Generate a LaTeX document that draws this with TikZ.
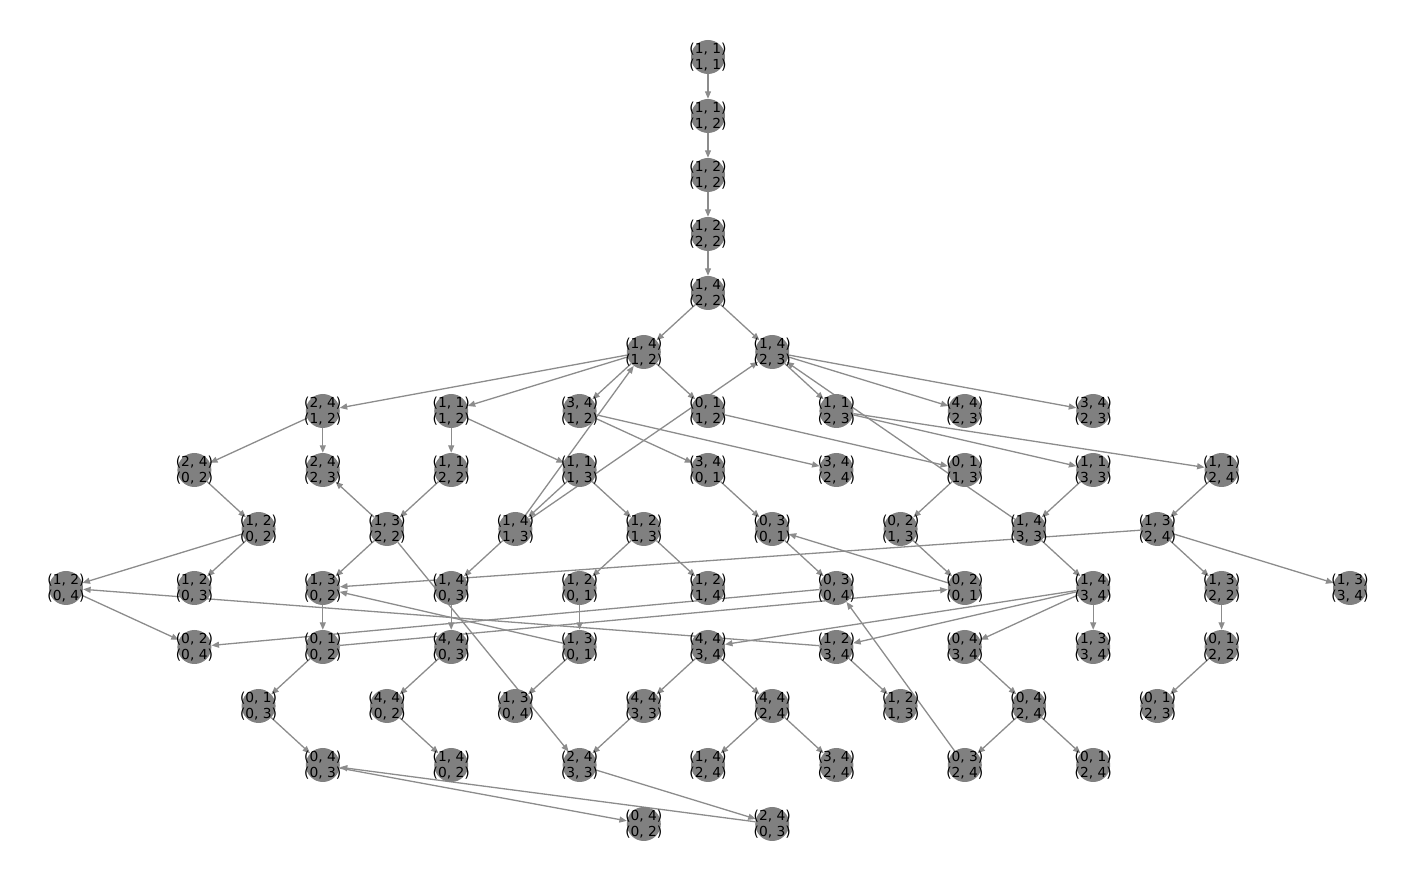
\documentclass[tikz,border=0pt]{standalone}
\usepackage{fontspec}
\setmainfont{DejaVu Sans}
\usetikzlibrary{arrows.meta,backgrounds}
\tikzset{
	st/.style={circle, fill=gray, minimum size=34pt, inner sep=0pt},
	lb/.style={align=center, inner sep=0pt, text=black, font=\fontsize{13.8}{16.2}\selectfont},
	ed/.style={draw=gray!90, line width=1.3pt, -{Triangle[length=7.5pt,width=6pt]}}
}
\newcommand\state[4]{\node[st, label={[lb]center:{#3\\#4}}] (#1) at (#2) {};}

\begin{document}
\begin{tikzpicture}[x=64.2pt, y=-59pt]
		%%%%% START %%%%%
		\useasboundingbox (-1.028,-0.966) rectangle (21.184,13.898);
		
		\state{r0c10}{10,0}{(1, 1)}{(1, 1)}
		\state{r1c10}{10,1}{(1, 1)}{(1, 2)}
		\state{r2c10}{10,2}{(1, 2)}{(1, 2)}
		\state{r3c10}{10,3}{(1, 2)}{(2, 2)}
		\state{r4c10}{10,4}{(1, 4)}{(2, 2)}
		
		\state{r5c9}{9,5}{(1, 4)}{(1, 2)}
		\state{r5c11}{11,5}{(1, 4)}{(2, 3)}
		
		\state{r6c4}{4,6}{(2, 4)}{(1, 2)}
		\state{r6c6}{6,6}{(1, 1)}{(1, 2)}
		\state{r6c8}{8,6}{(3, 4)}{(1, 2)}
		\state{r6c10}{10,6}{(0, 1)}{(1, 2)}
		\state{r6c12}{12,6}{(1, 1)}{(2, 3)}
		\state{r6c14}{14,6}{(4, 4)}{(2, 3)}
		\state{r6c16}{16,6}{(3, 4)}{(2, 3)}
		
		\state{r7c2}{2,7}{(2, 4)}{(0, 2)}
		\state{r7c4}{4,7}{(2, 4)}{(2, 3)}
		\state{r7c6}{6,7}{(1, 1)}{(2, 2)}
		\state{r7c8}{8,7}{(1, 1)}{(1, 3)}
		\state{r7c10}{10,7}{(3, 4)}{(0, 1)}
		\state{r7c12}{12,7}{(3, 4)}{(2, 4)}
		\state{r7c14}{14,7}{(0, 1)}{(1, 3)}
		\state{r7c16}{16,7}{(1, 1)}{(3, 3)}
		\state{r7c18}{18,7}{(1, 1)}{(2, 4)}
		
		\state{r8c3}{3,8}{(1, 2)}{(0, 2)}
		\state{r8c5}{5,8}{(1, 3)}{(2, 2)}
		\state{r8c7}{7,8}{(1, 4)}{(1, 3)}
		\state{r8c9}{9,8}{(1, 2)}{(1, 3)}
		\state{r8c11}{11,8}{(0, 3)}{(0, 1)}
		\state{r8c13}{13,8}{(0, 2)}{(1, 3)}
		\state{r8c15}{15,8}{(1, 4)}{(3, 3)}
		\state{r8c17}{17,8}{(1, 3)}{(2, 4)}
		
		\state{r9c0}{0,9}{(1, 2)}{(0, 4)}
		\state{r9c2}{2,9}{(1, 2)}{(0, 3)}
		\state{r9c4}{4,9}{(1, 3)}{(0, 2)}
		\state{r9c6}{6,9}{(1, 4)}{(0, 3)}
		\state{r9c8}{8,9}{(1, 2)}{(0, 1)}
		\state{r9c10}{10,9}{(1, 2)}{(1, 4)}
		\state{r9c12}{12,9}{(0, 3)}{(0, 4)}
		\state{r9c14}{14,9}{(0, 2)}{(0, 1)}
		\state{r9c16}{16,9}{(1, 4)}{(3, 4)}
		\state{r9c18}{18,9}{(1, 3)}{(2, 2)}
		\state{r9c20}{20,9}{(1, 3)}{(3, 4)}
		
		\state{r10c2}{2,10}{(0, 2)}{(0, 4)}
		\state{r10c4}{4,10}{(0, 1)}{(0, 2)}
		\state{r10c6}{6,10}{(4, 4)}{(0, 3)}
		\state{r10c8}{8,10}{(1, 3)}{(0, 1)}
		\state{r10c10}{10,10}{(4, 4)}{(3, 4)}
		\state{r10c12}{12,10}{(1, 2)}{(3, 4)}
		\state{r10c14}{14,10}{(0, 4)}{(3, 4)}
		\state{r10c16}{16,10}{(1, 3)}{(3, 4)}
		\state{r10c18}{18,10}{(0, 1)}{(2, 2)}
		
		\state{r11c3}{3,11}{(0, 1)}{(0, 3)}
		\state{r11c5}{5,11}{(4, 4)}{(0, 2)}
		\state{r11c7}{7,11}{(1, 3)}{(0, 4)}
		\state{r11c9}{9,11}{(4, 4)}{(3, 3)}
		\state{r11c11}{11,11}{(4, 4)}{(2, 4)}
		\state{r11c13}{13,11}{(1, 2)}{(1, 3)}
		\state{r11c15}{15,11}{(0, 4)}{(2, 4)}
		\state{r11c17}{17,11}{(0, 1)}{(2, 3)}
		
		\state{r12c4}{4,12}{(0, 4)}{(0, 3)}
		\state{r12c6}{6,12}{(1, 4)}{(0, 2)}
		\state{r12c8}{8,12}{(2, 4)}{(3, 3)}
		\state{r12c10}{10,12}{(1, 4)}{(2, 4)}
		\state{r12c12}{12,12}{(3, 4)}{(2, 4)}
		\state{r12c14}{14,12}{(0, 3)}{(2, 4)}
		\state{r12c16}{16,12}{(0, 1)}{(2, 4)}
		
		\state{r13c9}{9,13}{(0, 4)}{(0, 2)}
		\state{r13c11}{11,13}{(2, 4)}{(0, 3)}
		
		\begin{scope}[on background layer]
		\draw[ed] (r0c10) -- (r1c10);
		\draw[ed] (r1c10) -- (r2c10);
		\draw[ed] (r2c10) -- (r3c10);
		\draw[ed] (r3c10) -- (r4c10);
		\draw[ed] (r4c10) -- (r5c9);
		\draw[ed] (r4c10) -- (r5c11);
		
		\draw[ed] (r5c9) -- (r6c4);
		\draw[ed] (r5c9) -- (r6c6);
		\draw[ed] (r5c9) -- (r6c8);
		\draw[ed] (r5c9) -- (r6c10);
		\draw[ed] (r8c7) -- (r5c9);
		\draw[ed] (r8c7) -- (r5c11);
		\draw[ed] (r5c11) -- (r6c12);
		\draw[ed] (r5c11) -- (r6c14);
		\draw[ed] (r5c11) -- (r6c16);
		\draw[ed] (r8c15) -- (r5c11);
		
		\draw[ed] (r6c4) -- (r7c2);
		\draw[ed] (r6c4) -- (r7c4);
		\draw[ed] (r6c6) -- (r7c6);
		\draw[ed] (r6c6) -- (r7c8);
		\draw[ed] (r6c8) -- (r7c10);
		\draw[ed] (r6c8) -- (r7c12);
		\draw[ed] (r6c10) -- (r7c14);
		\draw[ed] (r6c12) -- (r7c16);
		\draw[ed] (r6c12) -- (r7c18);
		
		\draw[ed] (r7c2) -- (r8c3);
		\draw[ed] (r8c5) -- (r7c4);
		\draw[ed] (r7c6) -- (r8c5);
		\draw[ed] (r7c8) -- (r8c7);
		\draw[ed] (r7c8) -- (r8c9);
		\draw[ed] (r7c10) -- (r8c11);
		\draw[ed] (r7c14) -- (r8c13);
		\draw[ed] (r7c16) -- (r8c15);
		\draw[ed] (r7c18) -- (r8c17);
		
		\draw[ed] (r8c3) -- (r9c0);
		\draw[ed] (r8c3) -- (r9c2);
		\draw[ed] (r8c5) -- (r9c4);
		\draw[ed] (r8c5) -- (r12c8);
		\draw[ed] (r8c7) -- (r9c6);
		\draw[ed] (r8c9) -- (r9c8);
		\draw[ed] (r8c9) -- (r9c10);
		\draw[ed] (r8c11) -- (r9c12);
		\draw[ed] (r8c13) -- (r9c14);
		\draw[ed] (r8c15) -- (r9c16);
		\draw[ed] (r8c17) -- (r9c4);
		\draw[ed] (r8c17) -- (r9c18);
		\draw[ed] (r8c17) -- (r9c20);
		\draw[ed] (r9c14) -- (r8c11);
		
		\draw[ed] (r9c0) -- (r10c2);
		\draw[ed] (r10c12) -- (r9c0);
		\draw[ed] (r9c4) -- (r10c4);
		\draw[ed] (r10c8) -- (r9c4);
		\draw[ed] (r9c6) -- (r10c6);
		\draw[ed] (r9c8) -- (r10c8);
		\draw[ed] (r9c12) -- (r10c2);
		\draw[ed] (r10c4) -- (r9c14);
		\draw[ed] (r12c14) -- (r9c12);
		\draw[ed] (r9c16) -- (r10c10);
		\draw[ed] (r9c16) -- (r10c12);
		\draw[ed] (r9c16) -- (r10c14);
		\draw[ed] (r9c16) -- (r10c16);
		\draw[ed] (r9c18) -- (r10c18);
		
		\draw[ed] (r10c4) -- (r11c3);
		\draw[ed] (r10c6) -- (r11c5);
		\draw[ed] (r10c8) -- (r11c7);
		\draw[ed] (r10c10) -- (r11c9);
		\draw[ed] (r10c10) -- (r11c11);
		\draw[ed] (r10c12) -- (r11c13);
		\draw[ed] (r10c14) -- (r11c15);
		\draw[ed] (r10c18) -- (r11c17);
		
		\draw[ed] (r11c3) -- (r12c4);
		\draw[ed] (r11c5) -- (r12c6);
		\draw[ed] (r11c9) -- (r12c8);
		\draw[ed] (r11c11) -- (r12c10);
		\draw[ed] (r11c11) -- (r12c12);
		\draw[ed] (r11c15) -- (r12c14);
		\draw[ed] (r11c15) -- (r12c16);
		
		\draw[ed] (r12c4) -- (r13c9);
		\draw[ed] (r13c11) -- (r12c4);
		\draw[ed] (r12c8) -- (r13c11);
		\end{scope}
		
		%%%%% END %%%%%
	\end{tikzpicture}
\end{document}
